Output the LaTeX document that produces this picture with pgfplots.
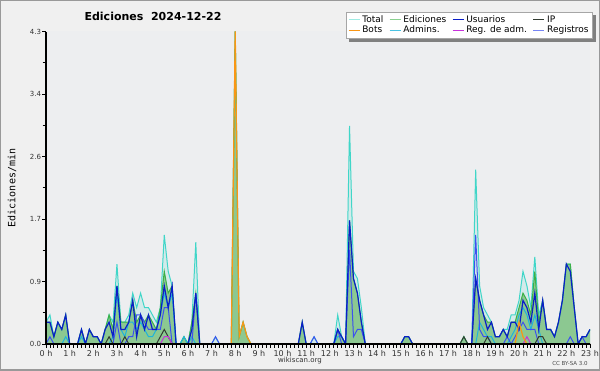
\documentclass[border=0pt]{standalone}
\usepackage{fontspec}
\setmainfont{DejaVu Sans}
\newfontfamily\monofont{DejaVu Sans Mono}
\usepackage{pgfplots}
\usepackage{pgfplotstable}
\pgfplotsset{compat=1.18}
\definecolor{bgc}{RGB}{240,240,240}
\definecolor{plotbg}{RGB}{237,238,240}
\definecolor{cTot}{RGB}{64,214,200}
\definecolor{cEdi}{RGB}{60,176,70}
\definecolor{cEdiFill}{RGB}{140,200,145}
\definecolor{cUsr}{RGB}{10,30,200}
\definecolor{cIP}{RGB}{50,60,50}
\definecolor{cBot}{RGB}{250,150,20}
\definecolor{cAdm}{RGB}{30,180,220}
\definecolor{cRad}{RGB}{200,50,220}
\definecolor{cReg}{RGB}{60,80,240}

\pgfplotstableread{
i tot edi usr ip bot adm rad reg
0 0.3 0.3 0.3 0 0 0 0 0
1 0.4 0.3 0.3 0 0 0 0 0.1
2 0.1 0.1 0.1 0 0 0 0 0
3 0.3 0.3 0.3 0 0 0 0 0
4 0.2 0.2 0.2 0 0 0 0 0
5 0.4 0.4 0.4 0 0 0.1 0 0
6 0 0 0 0 0 0 0 0
7 0 0 0 0 0 0 0 0
8 0 0 0 0 0 0 0 0
9 0.2 0.2 0.2 0 0 0.1 0 0
10 0 0 0 0 0 0 0 0
11 0.2 0.2 0.2 0 0 0 0 0
12 0.1 0.1 0.1 0 0 0 0 0
13 0.1 0.1 0.1 0 0 0 0 0
14 0 0 0 0 0 0 0 0
15 0.2 0.2 0.2 0 0 0 0 0
16 0.4 0.4 0.3 0.1 0 0 0 0
17 0.3 0.2 0.1 0 0 0.1 0 0
18 1.1 0.8 0.8 0 0 0.7 0 0.3
19 0.3 0.3 0.2 0 0 0.2 0 0
20 0.3 0.3 0.2 0.1 0 0.1 0 0
21 0.4 0.3 0.3 0 0 0.3 0 0.1
22 0.7 0.6 0.6 0 0 0.3 0 0.1
23 0.5 0.3 0.1 0 0 0.2 0 0.4
24 0.7 0.4 0.4 0 0 0.3 0 0.4
25 0.5 0.3 0.2 0 0 0.2 0 0.3
26 0.5 0.4 0.4 0 0 0.1 0 0.2
27 0.4 0.3 0.2 0 0 0.1 0 0.2
28 0.3 0.2 0.2 0 0 0.2 0 0.2
29 0.5 0.5 0.4 0.1 0 0.4 0 0.2
30 1.5 1.0 0.8 0.2 0 0.7 0.1 0.5
31 1.0 0.7 0.5 0.1 0 0.5 0.1 0.5
32 0.8 0.8 0.8 0 0 0.7 0 0
33 0 0 0 0 0 0 0 0
34 0 0 0 0 0 0 0 0
35 0.1 0.1 0 0 0 0.1 0 0
36 0 0 0 0 0 0 0 0
37 0.3 0.3 0.2 0 0 0.1 0 0
38 1.4 0.7 0.7 0 0 0 0 0.7
39 0 0 0 0 0 0 0 0
40 0 0 0 0 0 0 0 0
41 0 0 0 0 0 0 0 0
42 0 0 0 0 0 0 0 0
43 0.1 0 0 0 0 0 0 0.1
44 0 0 0 0 0 0 0 0
45 0 0 0 0 0 0 0 0
46 0 0 0 0 0 0 0 0
47 0 0 0 0 0 0 0 0
48 4.3 4.3 0 0 4.3 0 0 0
49 0.1 0.1 0 0 0.1 0 0 0
50 0.3 0.3 0 0 0.3 0 0 0
51 0.1 0.1 0 0 0.1 0 0 0
52 0 0 0 0 0 0 0 0
53 0 0 0 0 0 0 0 0
54 0 0 0 0 0 0 0 0
55 0 0 0 0 0 0 0 0
56 0 0 0 0 0 0 0 0
57 0 0 0 0 0 0 0 0
58 0 0 0 0 0 0 0 0
59 0 0 0 0 0 0 0 0
60 0 0 0 0 0 0 0 0
61 0 0 0 0 0 0 0 0
62 0 0 0 0 0 0 0 0
63 0 0 0 0 0 0 0 0
64 0 0 0 0 0 0 0 0
65 0.3 0.3 0.3 0 0 0 0 0
66 0 0 0 0 0 0 0 0
67 0 0 0 0 0 0 0 0
68 0.1 0 0 0 0 0 0 0.1
69 0 0 0 0 0 0 0 0
70 0 0 0 0 0 0 0 0
71 0 0 0 0 0 0 0 0
72 0 0 0 0 0 0 0 0
73 0 0 0 0 0 0 0 0
74 0.4 0.2 0.2 0 0 0.1 0 0.2
75 0.1 0.1 0.1 0 0 0.1 0 0
76 0 0 0 0 0 0 0 0
77 3.0 1.7 1.7 0 0 0 0 1.3
78 1.0 0.9 0.9 0 0 0 0 0.1
79 0.9 0.7 0.7 0 0 0 0 0.2
80 0.5 0.3 0.3 0 0 0 0 0.2
81 0 0 0 0 0 0 0 0
82 0 0 0 0 0 0 0 0
83 0 0 0 0 0 0 0 0
84 0 0 0 0 0 0 0 0
85 0 0 0 0 0 0 0 0
86 0 0 0 0 0 0 0 0
87 0 0 0 0 0 0 0 0
88 0 0 0 0 0 0 0 0
89 0 0 0 0 0 0 0 0
90 0 0 0 0 0 0 0 0
91 0.1 0.1 0.1 0 0 0 0 0
92 0.1 0.1 0.1 0 0 0 0 0
93 0 0 0 0 0 0 0 0
94 0 0 0 0 0 0 0 0
95 0 0 0 0 0 0 0 0
96 0 0 0 0 0 0 0 0
97 0 0 0 0 0 0 0 0
98 0 0 0 0 0 0 0 0
99 0 0 0 0 0 0 0 0
100 0 0 0 0 0 0 0 0
101 0 0 0 0 0 0 0 0
102 0 0 0 0 0 0 0 0
103 0 0 0 0 0 0 0 0
104 0 0 0 0 0 0 0 0
105 0 0 0 0 0 0 0 0
106 0.1 0.1 0 0.1 0 0 0 0
107 0 0 0 0 0 0 0 0
108 0 0 0 0 0 0 0 0
109 2.4 0.9 0.9 0 0 0 0 1.5
110 0.8 0.6 0.6 0 0 0.3 0 0.2
111 0.5 0.4 0.4 0 0 0.2 0 0.1
112 0.4 0.3 0.2 0.1 0 0.1 0 0.1
113 0.3 0.3 0.3 0 0 0.1 0 0
114 0.1 0.1 0.1 0 0 0 0 0
115 0.1 0.1 0.1 0 0 0 0 0
116 0.2 0.2 0.2 0 0 0 0 0
117 0.2 0.1 0.1 0 0 0 0 0.1
118 0.4 0.3 0.3 0 0 0.1 0 0
119 0.4 0.3 0.3 0 0 0.2 0 0.1
120 0.6 0.5 0.2 0 0.3 0.4 0 0.2
121 1.0 0.7 0.6 0 0.1 0.5 0 0.3
122 0.8 0.6 0.5 0 0 0.4 0.1 0.2
123 0.5 0.4 0.3 0 0 0.2 0 0.2
124 1.2 1.0 0.7 0 0 0.4 0 0.2
125 0.4 0.3 0.2 0.1 0 0.2 0 0
126 0.6 0.6 0.6 0.1 0 0 0 0
127 0.2 0.2 0.2 0 0 0 0 0
128 0.2 0.2 0.2 0 0 0 0 0
129 0.1 0.1 0.1 0 0 0 0 0
130 0.3 0.3 0.3 0 0 0 0 0
131 0.6 0.6 0.6 0 0 0 0 0
132 1.1 1.1 1.1 0 0 0 0 0
133 1.1 1.1 1.0 0 0 0 0 0.1
134 0.5 0.5 0.5 0 0 0 0 0
135 0 0 0 0 0 0 0 0
136 0.1 0.1 0.1 0 0 0 0 0.1
137 0.1 0.1 0.1 0 0 0 0 0
138 0.2 0.2 0.2 0 0 0 0 0
}\data

\begin{document}
\begin{tikzpicture}[x=1pt,y=1pt]
\fill[bgc] (0,0) rectangle (600,370);
\draw[black!40, line width=1.5pt] (0,0) rectangle (600,370);
\fill[plotbg] (46,26) rectangle (590,338.5);
\begin{axis}[
  at={(46pt,26pt)}, anchor=south west,
  width=544pt, height=312.5pt, scale only axis,
  xmin=0, xmax=138, ymin=0, ymax=4.3,
  set layers, axis on top,
  axis x line*=bottom, axis y line*=left,
  axis line style={black, line width=1.2pt},
  xtick={0,6,...,138},
  xticklabels={0 h,1 h,2 h,3 h,4 h,5 h,6 h,7 h,8 h,9 h,10 h,11 h,12 h,13 h,14 h,15 h,16 h,17 h,18 h,19 h,20 h,21 h,22 h,23 h},
  minor x tick num=5,
  ytick={0,0.86,1.72,2.58,3.44,4.3},
  yticklabels={0.0,0.9,1.7,2.6,3.4,4.3},
  minor y tick num=1,
  tick align=outside,
  major tick length=4pt, minor tick length=3.5pt,
  every tick/.style={black, line width=0.8pt},
  ymajorgrids,
  major grid style={black!20, line width=0.8pt, /pgfplots/on layer=axis background},
  x tick label style={font=\fontsize{8}{8}\selectfont, text=black!80, yshift=1pt},
  y tick label style={font=\fontsize{7}{8}\selectfont, text=black!80, xshift=2.5pt},
  legend columns=4,
  legend cell align=left,
  legend image code/.code={\draw[#1, line width=0.8pt] (0pt,0pt) -- (11pt,0pt);},
  legend style={name=leg, at={(axis description cs:0.5515,1.0624)}, anchor=north west,
    draw=black!35, fill=white, font=\fontsize{9}{9}\selectfont,
    inner xsep=2pt, inner ysep=1.5pt, row sep=-2pt,
    /tikz/every even column/.append style={column sep=4pt},
    /tikz/every odd column/.append style={column sep=0.3pt}},
]
\addplot[draw=none, fill=cTot, fill opacity=0.15, forget plot] table[x=i,y=tot]{\data} \closedcycle;
\addplot[draw=none, fill=cEdiFill, forget plot] table[x=i,y=edi]{\data} \closedcycle;
\addplot[cTot, line width=1pt, forget plot] table[x=i,y=tot]{\data};
\addplot[cEdi, line width=1pt, forget plot] table[x=i,y=edi]{\data};
\addplot[cAdm, line width=1pt, forget plot] table[x=i,y=adm]{\data};
\addplot[cReg, line width=1pt, forget plot] table[x=i,y=reg]{\data};
\addplot[cUsr, line width=1.2pt, forget plot] table[x=i,y=usr]{\data};
\addplot[cIP, line width=1pt, forget plot] table[x=i,y=ip]{\data};
\addplot[cRad, line width=1pt, forget plot] table[x=i,y=rad]{\data};
\addplot[cBot, line width=1.2pt, forget plot] table[x=i,y=bot]{\data};
\addlegendimage{cTot!50}\addlegendentry{Total}
\addlegendimage{cEdi!60}\addlegendentry{Ediciones}
\addlegendimage{cUsr}\addlegendentry{Usuarios}
\addlegendimage{cIP}\addlegendentry{IP}
\addlegendimage{cBot}\addlegendentry{Bots}
\addlegendimage{cAdm!80}\addlegendentry{Admins.}
\addlegendimage{cRad}\addlegendentry{Reg. de adm.}
\addlegendimage{cReg!70}\addlegendentry{Registros}
\end{axis}
\fill[black!50] ([xshift=0.5pt,yshift=-3pt]leg.north east) rectangle ([xshift=3.5pt,yshift=-3.5pt]leg.south east);
\fill[black!50] ([xshift=3pt,yshift=-0.5pt]leg.south west) rectangle ([xshift=3.5pt,yshift=-3.5pt]leg.south east);
\node[font=\bfseries\fontsize{11}{12}\selectfont] at (153,354) {Ediciones\ \ 2024-12-22};
\node[rotate=90, font=\monofont\fontsize{10}{10}\selectfont] at (12,182) {Ediciones/min};
\node[font=\fontsize{7}{8}\selectfont, text=black!80] at (300,9) {wikiscan.org};
\node[font=\fontsize{5.5}{6}\selectfont, text=black!70] at (570,7) {CC BY-SA 3.0};
\pgfresetboundingbox
\path[use as bounding box] (0,0) rectangle (600,370);
\end{tikzpicture}
\end{document}
